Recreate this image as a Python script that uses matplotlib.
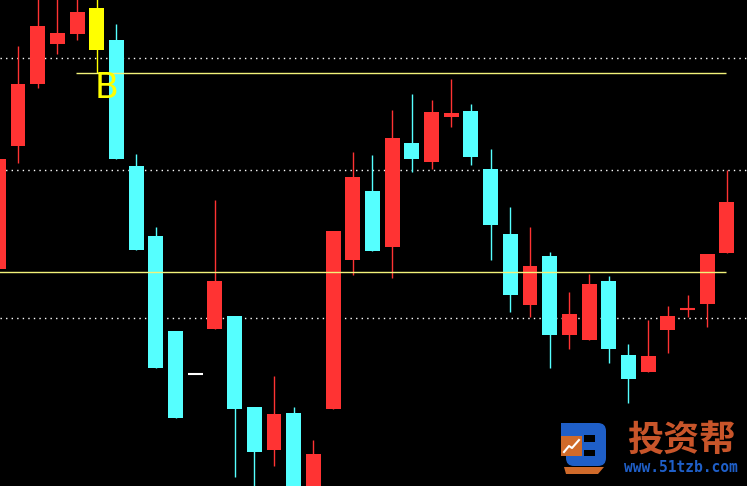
import matplotlib.pyplot as plt
import numpy as np
from matplotlib.patches import Rectangle, FancyBboxPatch, Polygon

# OHLC values (chart units), one entry per candle, left to right
highs = [327, 440, 491, 491, 490, 490, 462, 332, 259, 155, 112, 286, 170, 79, 110, 79, 46,
         255, 334, 331, 376, 392, 386, 407, 382, 337, 279, 259, 234, 194, 212, 210, 142,
         166, 180, 191, 232, 316]
lows = [217, 323, 398, 432, 446, 413, 327, 236, 118, 68, 112, 157, 9, -5, 20, -20, -20,
        77, 211, 235, 208, 314, 317, 359, 321, 226, 174, 169, 118, 137, 146, 123, 83,
        114, 133, 169, 159, 233]
opens = [217, 340, 402, 442, 452, 436, 446, 320, 250, 155, 112, 157, 170, 79, 36, 73, -10,
         77, 226, 295, 239, 343, 324, 369, 375, 317, 252, 181, 230, 151, 146, 205, 131,
         114, 156, 177, 182, 233]
closes = [327, 402, 460, 453, 474, 478, 327, 236, 118, 68, 112, 205, 77, 34, 72, -10, 32,
          255, 309, 235, 348, 327, 374, 373, 329, 261, 191, 220, 151, 172, 202, 137, 107,
          130, 170, 177, 232, 284]
special = {5: "#ffff00", 10: "#ffffff"}  # highlighted candle, flat doji

dotted_levels = [428, 316, 168]
yellow_levels = [413, 214]

RED = "#ff3333"
CYAN = "#55ffff"

fig = plt.figure(figsize=(7.47, 4.86), dpi=100, facecolor="black")
ax = fig.add_axes([0, 0, 1, 1], facecolor="black")
ax.set_xlim(0.086, 38.02)
ax.set_ylim(0, 486)
ax.axis("off")

for lvl in dotted_levels:
    ax.axhline(lvl, color="white", lw=1, linestyle=(0, (1, 3)), zorder=1)
ax.hlines(yellow_levels[0], 3.95, 36.95, color="#f2f27a", lw=1, zorder=3)
ax.hlines(yellow_levels[1], 0, 36.95, color="#f2f27a", lw=1, zorder=3)

w = 0.76
for i in range(len(opens)):
    o, c, h, l = opens[i], closes[i], highs[i], lows[i]
    col = special.get(i, RED if c >= o else CYAN)
    ax.vlines(i, l, h, color=col, lw=1, zorder=2)
    if abs(c - o) < 1:
        ax.hlines(o, i - w / 2, i + w / 2, color=col, lw=1.5, zorder=2)
    else:
        ax.add_patch(Rectangle((i - w / 2, min(o, c)), w, abs(c - o),
                               facecolor=col, edgecolor="none", zorder=2))

ax.text(5.52, 398, "B", color="#ffff00", fontsize=25, ha="center", va="center", zorder=4)

# watermark logo (pixel coordinates)
lg = fig.add_axes([0, 0, 1, 1])
lg.set_xlim(0, 747)
lg.set_ylim(486, 0)
lg.axis("off")
lg.patch.set_alpha(0)
lg.add_patch(FancyBboxPatch((566, 423), 40, 43, boxstyle="round,pad=0,rounding_size=8",
                            facecolor="#1f5fc8", edgecolor="none"))
lg.add_patch(Rectangle((561, 423), 12, 14, facecolor="#1f5fc8", edgecolor="none"))
lg.add_patch(Rectangle((584, 435), 11, 7, facecolor="black", edgecolor="none"))
lg.add_patch(Rectangle((584, 450), 11, 6, facecolor="black", edgecolor="none"))
lg.add_patch(Rectangle((561, 436), 21, 20, facecolor="#d06a2a", edgecolor="none"))
lg.plot([564, 569, 572, 579], [452, 446, 448, 440], color="white", lw=1.5)
lg.add_patch(Polygon([(564, 467), (604, 467), (598, 474), (566, 474)],
                     facecolor="#d06a2a", edgecolor="none"))
lg.text(681, 441, "投资帮", color="#c8552a", fontsize=26, fontweight="bold",
        family=["Noto Sans CJK SC", "DejaVu Sans"], ha="center", va="center")
lg.text(681, 467, "www.51tzb.com", color="#1f5fc8", fontsize=10.5, fontweight="bold",
        family="DejaVu Sans Mono", ha="center", va="center")

fig.savefig("out.png", dpi=100, facecolor="black")
